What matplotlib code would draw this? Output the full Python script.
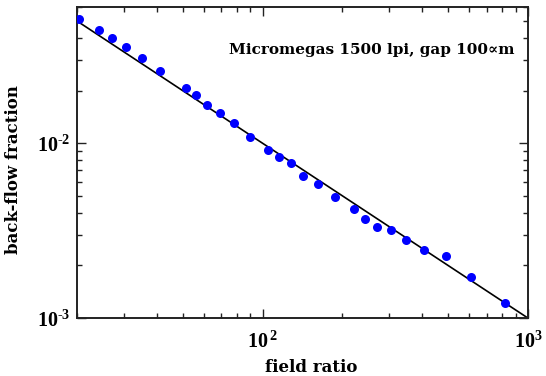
import numpy as np
import matplotlib
matplotlib.use("Agg")
import matplotlib.pyplot as plt
from matplotlib.ticker import FixedLocator, FixedFormatter, LogLocator, NullFormatter

plt.rcParams['font.family'] = ['DejaVu Serif', 'DejaVu Sans']
plt.rcParams['mathtext.fontset'] = 'custom'
plt.rcParams['mathtext.rm'] = 'Liberation Serif:bold'
plt.rcParams['mathtext.bf'] = 'Liberation Serif:bold'

# measured back-flow fraction vs field ratio
field_ratio = [20.3, 24.3, 27.2, 30.5, 35.0, 41.0, 51.5, 56.2, 62.0, 69.0,
               78.3, 89.9, 105.1, 115.2, 127.5, 142.4, 161.7, 187.0, 220.9,
               242.6, 270.0, 304.1, 347.4, 406.2, 489.1, 607.9, 816.6]
backflow = [0.0511, 0.0446, 0.0400, 0.0357, 0.0309, 0.0258, 0.0206, 0.0189,
            0.0165, 0.01497, 0.01297, 0.01086, 0.00910, 0.00834, 0.00772,
            0.00650, 0.00585, 0.00494, 0.00418, 0.00367, 0.00334, 0.00320,
            0.00278, 0.00245, 0.00227, 0.00172, 0.00122]

# 1/x reference line
fit_x = np.array([20.0, 1000.0])
fit_y = 1.0 / fit_x

x_ticks = [1e2, 1e3]
x_labels = [r'$\mathbf{10^{\,2}}$', r'$\mathbf{10^{3}}$']
y_ticks = [1e-3, 1e-2]
y_labels = ['$\\mathbf{10^{\u20103}}$', '$\\mathbf{10^{\u20102}}$']

fig = plt.figure(figsize=(5.46, 3.76), dpi=100)
ax = fig.add_axes([0.141, 0.154, 0.826, 0.827])

ax.plot(fit_x, fit_y, color='black', lw=1.2, zorder=2)
ax.plot(field_ratio, backflow, 'o', color='#0000ff', ms=6.5, mec='none', zorder=3)

ax.set_xscale('log')
ax.set_yscale('log')
ax.set_xlim(20, 1000)
ax.set_ylim(1e-3, 0.06)

ax.xaxis.set_major_locator(FixedLocator(x_ticks))
ax.xaxis.set_major_formatter(FixedFormatter(x_labels))
ax.yaxis.set_major_locator(FixedLocator(y_ticks))
ax.yaxis.set_major_formatter(FixedFormatter(y_labels))
ax.xaxis.set_minor_locator(LogLocator(base=10, subs=np.arange(2, 10)))
ax.yaxis.set_minor_locator(LogLocator(base=10, subs=np.arange(2, 10)))
ax.xaxis.set_minor_formatter(NullFormatter())
ax.yaxis.set_minor_formatter(NullFormatter())

ax.tick_params(which='both', direction='in', top=True, right=True,
               color='#222222', width=1.0, labelsize=14.5)
ax.tick_params(which='major', length=6.5)
ax.tick_params(which='minor', length=3.5)
ax.tick_params(axis='x', which='major', pad=9)
ax.tick_params(axis='y', which='major', pad=5)
for sp in ax.spines.values():
    sp.set_linewidth(1.4)
    sp.set_color('#222222')

ax.set_xlabel('field ratio', fontsize=12, fontweight='bold')
ax.set_ylabel('back-flow fraction', fontsize=12, fontweight='bold')
ax.xaxis.set_label_coords(0.519, -0.13)
ax.yaxis.set_label_coords(-0.122, 0.478)

ax.text(0.97, 0.85, 'Micromegas 1500 lpi, gap 100\u221dm', transform=ax.transAxes,
        ha='right', va='baseline', fontsize=11, fontweight='bold')

fig.savefig('out.png', dpi=100)
